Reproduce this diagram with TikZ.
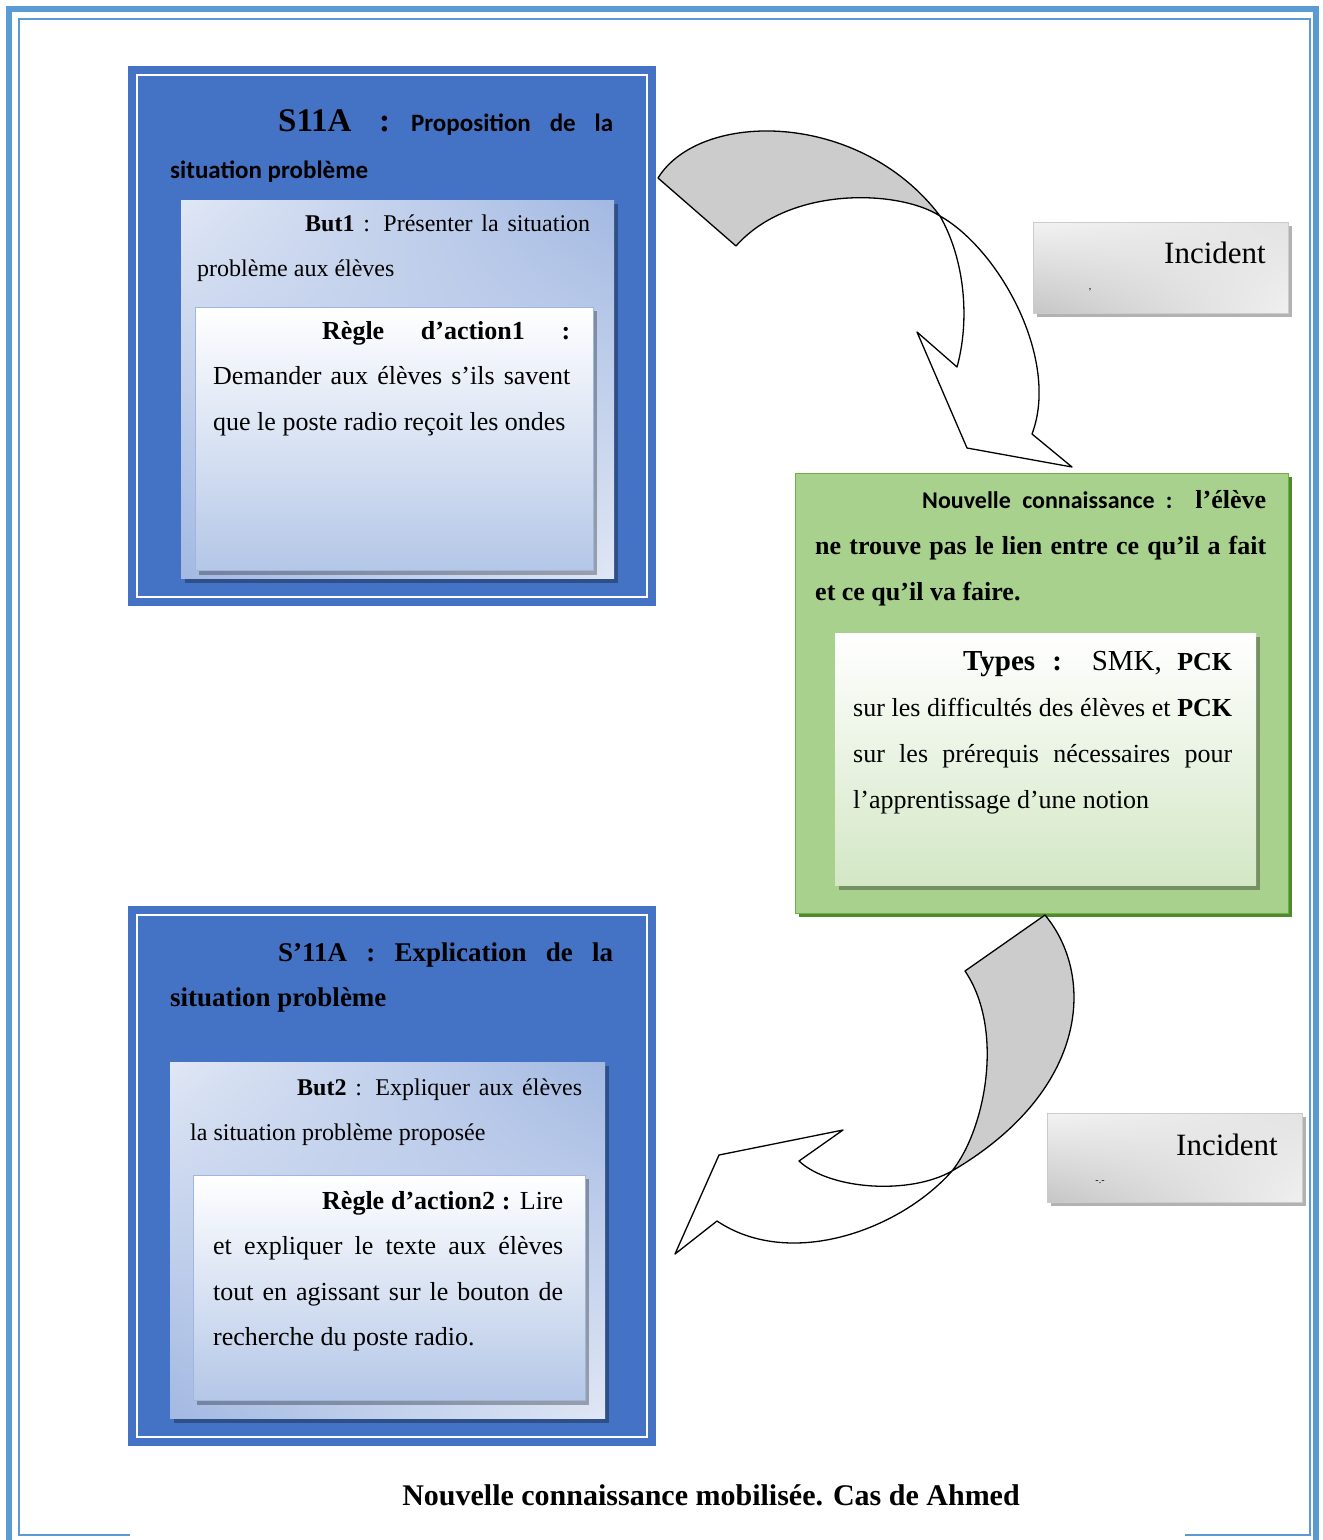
\documentclass[tikz,border=0pt]{standalone}
\usepackage{fontspec}
\usetikzlibrary{shadings}
\setmainfont{Liberation Serif}
\setsansfont{Carlito}
\hyphenpenalty=10000
\definecolor{frameblue}{HTML}{5B9BD5}
\definecolor{boxblue}{HTML}{4472C4}
\definecolor{butlight}{HTML}{E0E7F5}
\definecolor{butdark}{HTML}{A3B9E2}
\definecolor{reglebot}{HTML}{B4C7E7}
\definecolor{greenlight}{HTML}{A9D18E}
\definecolor{greendark}{HTML}{70AD47}
\definecolor{greenedge}{HTML}{4E8A2E}
\definecolor{typesbot}{HTML}{D3E7C5}
\definecolor{arrowgray}{HTML}{CCCCCC}
\tikzset{
  boxtext/.style={anchor=base west, inner sep=0pt, align=justify, font=\fontsize{26}{45.5}\selectfont},
  shadowbox/.style={fill=black, opacity=.3},
  bandback/.style={fill=arrowgray, draw=black, line width=1.3pt, line join=round},
  bandfront/.style={fill=white, draw=black, line width=1.3pt, line join=round},
  incbox/.style={upper left=gray!10, upper right=gray!22, lower left=gray!45, lower right=gray!12, draw=gray!40}
}
\begin{document}
\begin{tikzpicture}[x=1pt, y=-1pt]
  \useasboundingbox (0,0) rectangle (1323,1540);
  % page frame
  \draw[frameblue, line width=6pt] (9,1540) -- (9,9) -- (1316,9) -- (1316,1540);
  \draw[frameblue, line width=2.5pt] (130,1535) -- (19,1535) -- (19,19) -- (1310,19) -- (1310,1535) -- (1185,1535);

  % S11A
  \fill[boxblue] (128,66) rectangle (656,606);
  \draw[white, line width=2.5pt] (137,75) rectangle (647,597);
  \node[boxtext, text width=443pt, font=\fontsize{25}{47}\selectfont] (s11a) at (170,131)
    {\hspace*{108pt}{\fontsize{33}{47}\selectfont\bfseries S11A :} {\sffamily\bfseries Proposition de la}\linebreak
     {\sffamily\bfseries situation problème}};
  \fill[shadowbox] (185,204) rectangle (618,583);
  \shade[upper left=butlight, upper right=butdark, lower left=butdark, lower right=butlight] (181,200) rectangle (614,578);
  \node[boxtext, text width=393pt, font=\fontsize{24}{45}\selectfont] (but1) at (197,231)
    {\hspace*{108pt}\textbf{But1} : Présenter la situation\linebreak problème aux élèves};
  \fill[shadowbox] (199,311) rectangle (597,575);
  \shade[top color=white, bottom color=reglebot, draw=reglebot!80!boxblue] (195,307) rectangle (593,570);
  \node[boxtext, text width=357pt] (regle1) at (213,339)
    {\hspace*{109pt}\textbf{Règle d’action1 :}\linebreak Demander aux élèves s'ils savent\linebreak que le poste radio reçoit les ondes};

  % S'11A
  \fill[boxblue] (128,906) rectangle (656,1446);
  \draw[white, line width=2.5pt] (137,915) rectangle (647,1437);
  \node[boxtext, text width=443pt, font=\fontsize{27}{45.5}\selectfont\bfseries] (s11b) at (170,961)
    {\hspace*{108pt}S’11A : Explication de la\linebreak situation problème};
  \fill[shadowbox] (174,1066) rectangle (609,1423);
  \shade[upper left=butlight, upper right=butdark, lower left=butdark, lower right=butlight] (170,1062) rectangle (605,1418);
  \node[boxtext, text width=392pt, font=\fontsize{24}{45}\selectfont] (but2) at (190,1095)
    {\hspace*{107pt}\textbf{But2} : Expliquer aux élèves\linebreak la situation problème proposée};
  \fill[shadowbox] (197,1179) rectangle (589,1405);
  \shade[top color=white, bottom color=reglebot, draw=reglebot!80!boxblue] (193,1175) rectangle (585,1400);
  \node[boxtext, text width=350pt] (regle2) at (213,1209)
    {\hspace*{109pt}\textbf{Règle d’action2 :} Lire\linebreak et expliquer le texte aux élèves\linebreak tout en agissant sur le bouton de\linebreak recherche du poste radio.};

  % nouvelle connaissance
  \fill[greenedge] (799,477) rectangle (1292,917);
  \shade[top color=greenlight, middle color=greendark, bottom color=greenlight, draw=greendark] (795,473) rectangle (1288,913);
  \node[boxtext, text width=451pt, font=\fontsize{26}{46}\selectfont\bfseries] (nouv) at (815,508)
    {\hspace*{107pt}{\sffamily\fontsize{24}{46}\selectfont Nouvelle connaissance :} l’élève\linebreak ne trouve pas le lien entre ce qu’il a fait\linebreak et ce qu’il va faire.};
  \fill[shadowbox] (839,637) rectangle (1260,890);
  \shade[top color=white, bottom color=typesbot] (835,633) rectangle (1256,885);
  \node[boxtext, text width=379pt, font=\fontsize{26}{46}\selectfont] (types) at (853,670)
    {\hspace*{110pt}{\fontsize{29}{46}\selectfont\textbf{Types :} SMK,} \textbf{PCK}\linebreak sur les difficultés des élèves et \textbf{PCK}\linebreak sur les prérequis nécessaires pour\linebreak l'apprentissage d'une notion};

  % incidents
  \fill[gray!60] (1037,226) rectangle (1292,317);
  \shade[incbox] (1033,222) rectangle (1288,313);
  \node[anchor=base east, inner sep=0pt, font=\fontsize{31}{34}\selectfont] (inc1) at (1266,263) {Incident};
  \node[inner sep=0pt, font=\fontsize{10}{10}\selectfont] (mark1) at (1090,290) {,};
  \fill[gray!60] (1051,1117) rectangle (1306,1206);
  \shade[incbox] (1047,1113) rectangle (1302,1202);
  \node[anchor=base east, inner sep=0pt, font=\fontsize{31}{34}\selectfont] (inc2) at (1278,1155) {Incident};
  \node[inner sep=0pt, font=\fontsize{10}{10}\selectfont] (mark2) at (1100,1182) {-.-};

  % curved arrow S11A -> nouvelle connaissance
  \filldraw[bandback] (658,178) .. controls (700,110) and (860,110) .. (940,216)
    .. controls (900,190) and (790,185) .. (736,246) -- cycle;
  \filldraw[bandfront] (940,216) .. controls (1000,250) and (1060,360) .. (1032,434)
    -- (1072,467) -- (967,448) -- (917,332) -- (957,367)
    .. controls (970,320) and (965,260) .. (940,216) -- cycle;

  % curved arrow nouvelle connaissance -> S'11A
  \filldraw[bandback] (1045,915) .. controls (1095,975) and (1090,1090) .. (952,1171)
    .. controls (985,1130) and (1005,1030) .. (965,971) -- cycle;
  \filldraw[bandfront] (952,1171) .. controls (900,1230) and (790,1270) .. (717,1221)
    -- (675,1254) -- (719,1155) -- (843,1130) -- (799,1161)
    .. controls (830,1190) and (910,1195) .. (952,1171) -- cycle;

  \node[font=\fontsize{30}{34}\selectfont\bfseries] (caption) at (711,1495) {Nouvelle connaissance mobilisée. Cas de Ahmed};
\end{tikzpicture}
\end{document}
